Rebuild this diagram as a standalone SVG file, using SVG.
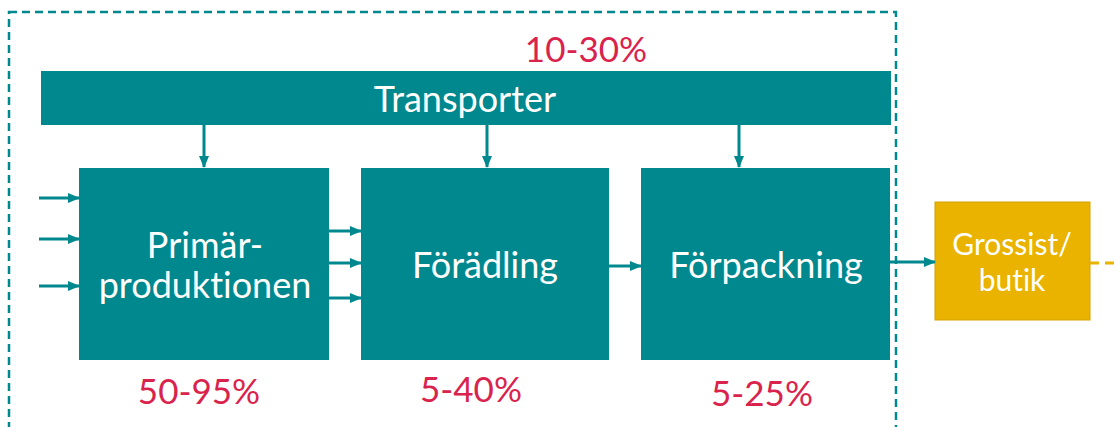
<svg xmlns="http://www.w3.org/2000/svg" width="1119" height="427" viewBox="0 0 1119 427">
<defs>
<marker id="ah" markerWidth="12" markerHeight="12" refX="11" refY="6" orient="auto" markerUnits="userSpaceOnUse">
<path d="M0,1 L12,6 L0,11 Z" fill="#00888F"/>
</marker>
<style>
.box{fill:#00888F;}
.lbl{font-family:Lato,"Open Sans","Liberation Sans",sans-serif;fill:#ffffff;text-anchor:middle;font-variant-ligatures:none;}
.pct{font-family:Lato,"Open Sans","Liberation Sans",sans-serif;fill:#D9234D;text-anchor:middle;font-size:35px;}
.con{stroke:#00888F;stroke-width:3;fill:none;marker-end:url(#ah);}
</style>
</defs>
<rect width="1119" height="427" fill="#ffffff"/>
<rect id="boundary" x="9" y="12" width="887" height="440" fill="none" stroke="#00888F" stroke-width="2.5" stroke-dasharray="8 5"/>
<g id="transporter">
<rect class="box" x="41" y="71" width="850" height="54"/>
<text class="lbl" x="465" y="112" font-size="36">Transporter</text>
</g>
<g id="primar">
<rect class="box" x="79" y="168" width="250" height="192"/>
<text class="lbl" x="205" y="258" font-size="36">Primär-</text>
<text class="lbl" x="205" y="298" font-size="36">produktionen</text>
</g>
<g id="foradling">
<rect class="box" x="361" y="168" width="248" height="192"/>
<text class="lbl" x="485" y="278" font-size="36">Förädling</text>
</g>
<g id="forpackning">
<rect class="box" x="641" y="168" width="249" height="192"/>
<text class="lbl" x="766" y="278" font-size="36">Förpackning</text>
</g>
<g id="grossist">
<rect x="935" y="202" width="155" height="118" fill="#E9B300" stroke="#D4A200" stroke-width="1"/>
<text class="lbl" x="1012" y="255" font-size="30">Grossist/</text>
<text class="lbl" x="1012" y="291" font-size="30">butik</text>
</g>
<g id="labels">
<text class="pct" x="586" y="62">10-30%</text>
<text class="pct" x="199" y="404">50-95%</text>
<text class="pct" x="471" y="402">5-40%</text>
<text class="pct" x="762" y="406">5-25%</text>
</g>
<g id="connectors">
<line class="con" x1="204" y1="125" x2="204" y2="167"/>
<line class="con" x1="487" y1="125" x2="487" y2="167"/>
<line class="con" x1="739" y1="125" x2="739" y2="167"/>
<line class="con" x1="39" y1="198" x2="79" y2="198"/>
<line class="con" x1="39" y1="239" x2="79" y2="239"/>
<line class="con" x1="39" y1="286" x2="79" y2="286"/>
<line class="con" x1="329" y1="231" x2="361" y2="231"/>
<line class="con" x1="329" y1="263" x2="361" y2="263"/>
<line class="con" x1="329" y1="298" x2="361" y2="298"/>
<line class="con" x1="609" y1="266" x2="641" y2="266"/>
<line class="con" x1="890" y1="262" x2="935" y2="262"/>
<line x1="1090" y1="263" x2="1119" y2="263" stroke="#E9B300" stroke-width="3" stroke-dasharray="9 6"/>
</g>
</svg>
